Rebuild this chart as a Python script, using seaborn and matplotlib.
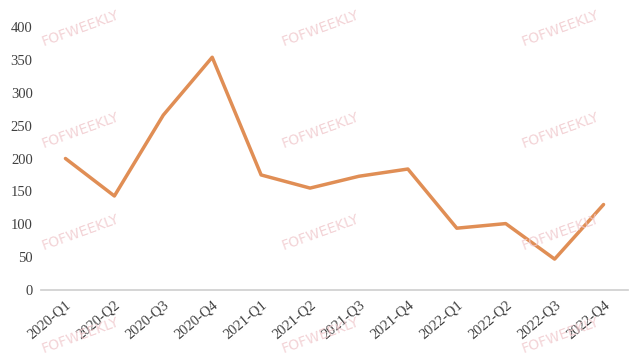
import matplotlib
matplotlib.use("Agg")
import matplotlib.pyplot as plt
import seaborn as sns
import pandas as pd

quarters = ["2020-Q1", "2020-Q2", "2020-Q3", "2020-Q4",
            "2021-Q1", "2021-Q2", "2021-Q3", "2021-Q4",
            "2022-Q1", "2022-Q2", "2022-Q3", "2022-Q4"]
values = [200, 143, 266, 354, 175, 155, 173, 184, 94, 101, 47, 130]
yticks = [0, 50, 100, 150, 200, 250, 300, 350, 400]

sns.set_theme(style="white")
plt.rcParams['font.family'] = ['Liberation Serif', 'DejaVu Serif']

df = pd.DataFrame({"q": quarters, "v": values})
fig = plt.figure(figsize=(6.38, 3.59), dpi=100)
ax = fig.add_axes([41/638, 69/359, 587/638, 263/359])

# watermark
for x in [80, 320, 560]:
    for y in [28, 130, 232, 335]:
        fig.text(x/638, 1 - y/359, "FOFWEEKLY", color="#f0c8cc", fontsize=10,
                 rotation=20, ha="center", va="center", family="DejaVu Sans",
                 alpha=0.8, zorder=0)

sns.lineplot(data=df, x="q", y="v", ax=ax, color="#E08E55", linewidth=2.5, sort=False)
ax.set_xlim(-0.5, len(quarters) - 0.5)
ax.set_ylim(0, 400)
ax.set_yticks(yticks)
ax.set_yticklabels([str(t) for t in yticks], fontsize=10.5, color="#404040")
ax.set_xticks(range(len(quarters)))
ax.set_xticklabels(quarters, rotation=40, ha="right", rotation_mode="anchor",
                   fontsize=10.5, color="#404040")
ax.set_xlabel("")
ax.set_ylabel("")
for s in ["left", "right", "top"]:
    ax.spines[s].set_visible(False)
ax.spines["bottom"].set_color("#d0d0d0")
ax.tick_params(axis="both", length=0, pad=6)
ax.patch.set_alpha(0)
fig.savefig("out.png", dpi=100)
